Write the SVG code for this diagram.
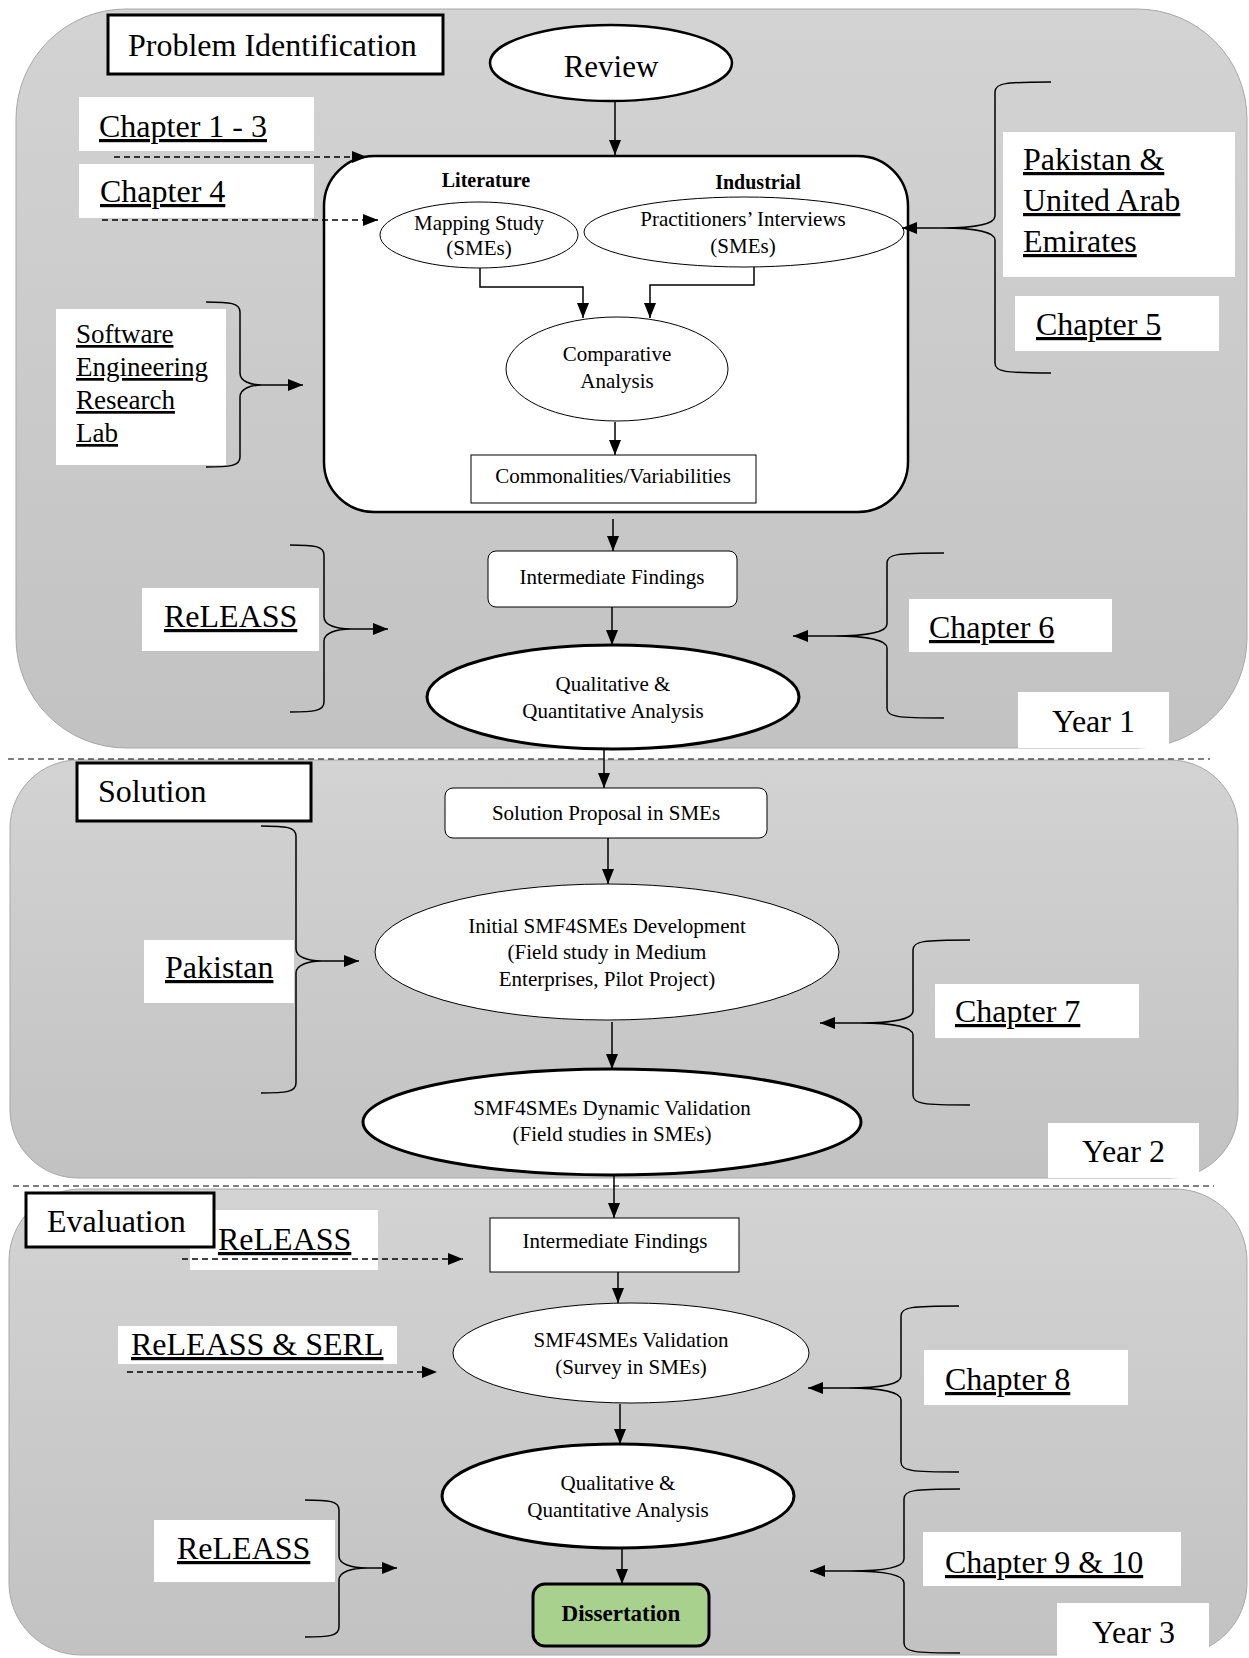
<svg xmlns="http://www.w3.org/2000/svg" width="1249" height="1658" viewBox="0 0 1249 1658">
  <defs>
    <linearGradient id="panelFill" x1="0" y1="0" x2="0" y2="1">
      <stop offset="0" stop-color="#d3d3d3"/>
      <stop offset="1" stop-color="#c2c2c2"/>
    </linearGradient>
    <marker id="arrow" markerUnits="userSpaceOnUse" markerWidth="15" markerHeight="12" refX="15" refY="6" orient="auto">
      <path d="M0,0 L15,6 L0,12 z" fill="#000"/>
    </marker>
    <style>
      .panel { fill: url(#panelFill); stroke: #a8a8a8; stroke-width: 1; }
      .sep { stroke: #000; stroke-width: 1.2; stroke-dasharray: 6 4; fill: none; }
      .label { fill: #fff; stroke: none; }
      .title { fill: #fff; stroke: #000; stroke-width: 3; }
      .big { font-family: "Liberation Serif", "Times New Roman", serif; font-size: 32px; fill: #000; }
      .ul { text-decoration: underline; }
      .node { fill: #fff; stroke: #000; stroke-width: 1; }
      .thick { stroke-width: 3; }
      .txt { font-family: "Liberation Serif", "Times New Roman", serif; font-size: 21px; fill: #000; text-anchor: middle; }
      .bold { font-weight: bold; }
      .flow { stroke: #000; stroke-width: 1.5; fill: none; marker-end: url(#arrow); }
      .dash { stroke: #000; stroke-width: 1.4; fill: none; stroke-dasharray: 6 4; marker-end: url(#arrow); }
      .brace { stroke: #000; stroke-width: 1.5; fill: none; }
    </style>
  </defs>

  <!-- phase panels -->
  <g id="panels">
    <rect class="panel" x="16" y="9" width="1231" height="739" rx="110" ry="110"/>
    <rect class="panel" x="10" y="760" width="1228" height="418" rx="68" ry="68"/>
    <rect class="panel" x="9" y="1189" width="1238" height="466" rx="72" ry="72"/>
  </g>

  <!-- year separators -->
  <g id="separators">
    <line class="sep" x1="8" y1="759" x2="1210" y2="759"/>
    <line class="sep" x1="13" y1="1186" x2="1214" y2="1186"/>
  </g>

  <!-- white label boxes -->
  <g id="label-boxes">
    <rect class="label" x="79" y="97" width="235" height="54"/>
    <rect class="label" x="79" y="164" width="235" height="54"/>
    <rect class="label" x="56" y="309" width="170" height="156"/>
    <rect class="label" x="1003" y="132" width="232" height="145"/>
    <rect class="label" x="1015" y="296" width="204" height="55"/>
    <rect class="label" x="142" y="588" width="177" height="63"/>
    <rect class="label" x="909" y="599" width="203" height="53"/>
    <rect class="label" x="1018" y="692" width="151" height="56"/>
    <rect class="label" x="144" y="940" width="150" height="63"/>
    <rect class="label" x="935" y="984" width="204" height="54"/>
    <rect class="label" x="1048" y="1123" width="151" height="55"/>
    <rect class="label" x="190" y="1210" width="188" height="60"/>
    <rect class="label" x="118" y="1326" width="279" height="38"/>
    <rect class="label" x="924" y="1350" width="204" height="55"/>
    <rect class="label" x="154" y="1520" width="181" height="62"/>
    <rect class="label" x="923" y="1532" width="258" height="54"/>
    <rect class="label" x="1057" y="1603" width="152" height="55"/>
  </g>

  <!-- phase titles -->
  <g id="title-problem">
    <rect class="title" x="108" y="15" width="335" height="59"/>
    <text class="big" x="128" y="56">Problem Identification</text>
  </g>
  <g id="title-solution">
    <rect class="title" x="77" y="763" width="234" height="58"/>
    <text class="big" x="98" y="802">Solution</text>
  </g>

  <!-- side labels -->
  <g id="lbl-ch1-3"><text class="big ul" x="99" y="137">Chapter 1 - 3</text></g>
  <g id="lbl-ch4"><text class="big ul" x="100" y="202">Chapter 4</text></g>
  <g id="lbl-serl">
    <text class="big ul" style="font-size:27px" x="76" y="343">Software</text>
    <text class="big ul" style="font-size:27px" x="76" y="376">Engineering</text>
    <text class="big ul" style="font-size:27px" x="76" y="409">Research</text>
    <text class="big ul" style="font-size:27px" x="76" y="442">Lab</text>
  </g>
  <g id="lbl-pk-uae">
    <text class="big ul" x="1023" y="170">Pakistan &amp;</text>
    <text class="big ul" x="1023" y="211">United Arab</text>
    <text class="big ul" x="1023" y="252">Emirates</text>
  </g>
  <g id="lbl-ch5"><text class="big ul" x="1036" y="335">Chapter 5</text></g>
  <g id="lbl-releass-1"><text class="big ul" x="164" y="627">ReLEASS</text></g>
  <g id="lbl-ch6"><text class="big ul" x="929" y="638">Chapter 6</text></g>
  <g id="lbl-year1"><text class="big" x="1052" y="732">Year 1</text></g>
  <g id="lbl-pakistan"><text class="big ul" x="165" y="978">Pakistan</text></g>
  <g id="lbl-ch7"><text class="big ul" x="955" y="1022">Chapter 7</text></g>
  <g id="lbl-year2"><text class="big" x="1082" y="1162">Year 2</text></g>
  <g id="lbl-releass-2"><text class="big ul" x="218" y="1250">ReLEASS</text></g>
  <g id="title-evaluation">
    <rect class="title" x="26" y="1193" width="188" height="54"/>
    <text class="big" x="47" y="1232">Evaluation</text>
  </g>
  <g id="lbl-releass-serl"><text class="big ul" x="131" y="1355">ReLEASS &amp; SERL</text></g>
  <g id="lbl-ch8"><text class="big ul" x="945" y="1390">Chapter 8</text></g>
  <g id="lbl-releass-3"><text class="big ul" x="177" y="1559">ReLEASS</text></g>
  <g id="lbl-ch9-10"><text class="big ul" x="945" y="1573">Chapter 9 &amp; 10</text></g>
  <g id="lbl-year3"><text class="big" x="1092" y="1643">Year 3</text></g>

  <!-- year 1 nodes -->
  <g id="review">
    <ellipse class="node" style="stroke-width:2.5" cx="611" cy="63" rx="121" ry="38"/>
    <text class="txt" style="font-size:31px" x="611" y="77">Review</text>
  </g>
  <g id="review-box">
    <rect class="node" style="stroke-width:2.5" x="324" y="156" width="584" height="356" rx="50" ry="50"/>
    <text class="txt bold" style="font-size:20px" x="486" y="187">Literature</text>
    <text class="txt bold" style="font-size:20px" x="758" y="189">Industrial</text>
  </g>
  <g id="mapping-study">
    <ellipse class="node" cx="479" cy="235" rx="99" ry="33"/>
    <text class="txt" x="479" y="230">Mapping Study</text>
    <text class="txt" x="479" y="255">(SMEs)</text>
  </g>
  <g id="interviews">
    <ellipse class="node" cx="744" cy="232" rx="160" ry="35"/>
    <text class="txt" x="743" y="226">Practitioners’ Interviews</text>
    <text class="txt" x="743" y="253">(SMEs)</text>
  </g>
  <g id="comparative">
    <ellipse class="node" cx="617" cy="369" rx="111" ry="52"/>
    <text class="txt" x="617" y="361">Comparative</text>
    <text class="txt" x="617" y="388">Analysis</text>
  </g>
  <g id="commonalities">
    <rect class="node" x="471" y="455" width="285" height="48"/>
    <text class="txt" x="613" y="483">Commonalities/Variabilities</text>
  </g>
  <g id="findings-1">
    <rect class="node" x="488" y="551" width="249" height="56" rx="8" ry="8"/>
    <text class="txt" x="612" y="584">Intermediate Findings</text>
  </g>
  <g id="analysis-1">
    <ellipse class="node thick" cx="613" cy="697" rx="186" ry="52"/>
    <text class="txt" x="613" y="691">Qualitative &amp;</text>
    <text class="txt" x="613" y="718">Quantitative Analysis</text>
  </g>

  <!-- year 2 nodes -->
  <g id="solution-proposal">
    <rect class="node" x="445" y="788" width="322" height="50" rx="8" ry="8"/>
    <text class="txt" x="606" y="820">Solution Proposal in SMEs</text>
  </g>
  <g id="initial-dev">
    <ellipse class="node" cx="607" cy="952" rx="232" ry="68"/>
    <text class="txt" x="607" y="933">Initial SMF4SMEs Development</text>
    <text class="txt" x="607" y="959">(Field study in Medium</text>
    <text class="txt" x="607" y="986">Enterprises, Pilot Project)</text>
  </g>
  <g id="dynamic-validation">
    <ellipse class="node thick" cx="612" cy="1122" rx="249" ry="53"/>
    <text class="txt" x="612" y="1115">SMF4SMEs Dynamic Validation</text>
    <text class="txt" x="612" y="1141">(Field studies in SMEs)</text>
  </g>

  <!-- year 3 nodes -->
  <g id="findings-2">
    <rect class="node" x="490" y="1218" width="249" height="54"/>
    <text class="txt" x="615" y="1248">Intermediate Findings</text>
  </g>
  <g id="survey-validation">
    <ellipse class="node" cx="631" cy="1353" rx="178" ry="50"/>
    <text class="txt" x="631" y="1347">SMF4SMEs Validation</text>
    <text class="txt" x="631" y="1374">(Survey in SMEs)</text>
  </g>
  <g id="analysis-2">
    <ellipse class="node thick" cx="618" cy="1496" rx="176" ry="52"/>
    <text class="txt" x="618" y="1490">Qualitative &amp;</text>
    <text class="txt" x="618" y="1517">Quantitative Analysis</text>
  </g>
  <g id="dissertation">
    <rect class="node thick" style="fill:#a9d18e" x="533" y="1584" width="176" height="62" rx="12" ry="12"/>
    <text class="txt bold" style="font-size:23px" x="621" y="1621">Dissertation</text>
  </g>

  <!-- connectors -->
  <g id="connectors">
    <path class="flow" d="M615,102 V155"/>
    <path class="flow" d="M480,268 V287 H583 V318"/>
    <path class="flow" d="M754,267 V285 H650 V318"/>
    <path class="flow" d="M615,422 V455"/>
    <path class="flow" d="M613,519 V551"/>
    <path class="flow" d="M612,607 V645"/>
    <path class="flow" d="M604,750 V788"/>
    <path class="flow" d="M608,838 V884"/>
    <path class="flow" d="M612,1022 V1069"/>
    <path class="flow" d="M614,1175 V1218"/>
    <path class="flow" d="M618,1272 V1303"/>
    <path class="flow" d="M620,1404 V1444"/>
    <path class="flow" d="M622,1548 V1584"/>

    <path class="dash" d="M114,157 H367"/>
    <path class="dash" d="M102,220 H378"/>
    <path class="dash" d="M182,1259 H463"/>
    <path class="dash" d="M127,1372 H437"/>

    <path class="brace" d="M206,302 C230,302 240,303 240,312 L240,373 C240,381 250,385 262,385 C250,385 240,389 240,397 L240,457 C240,466 230,467 206,467"/>
    <path class="flow" d="M262,385 H303"/>
    <path class="brace" d="M290,545 C314,545 324,546 324,555 L324,617 C324,625 336,629 351,629 C336,629 324,633 324,641 L324,702 C324,711 314,712 290,712"/>
    <path class="flow" d="M351,629 H388"/>
    <path class="brace" d="M261,826 C286,826 296,827 296,836 L296,949 C296,957 308,961 322,961 C308,961 296,965 296,973 L296,1083 C296,1092 286,1093 261,1093"/>
    <path class="flow" d="M322,961 H359"/>
    <path class="brace" d="M305,1500 C329,1500 339,1501 339,1510 L339,1556 C339,1564 351,1568 367,1568 C351,1568 339,1572 339,1580 L339,1627 C339,1636 329,1637 305,1637"/>
    <path class="flow" d="M367,1568 H397"/>

    <path class="brace" d="M1051,82 C1005,82 995,83 995,92 L995,216 C995,224 975,228 942,228 C975,228 995,232 995,240 L995,363 C995,372 1005,373 1051,373"/>
    <path class="flow" d="M942,228 H902"/>
    <path class="brace" d="M944,553 C897,553 887,554 887,563 L887,624 C887,632 867,636 834,636 C867,636 887,640 887,648 L887,708 C887,717 897,718 944,718"/>
    <path class="flow" d="M834,636 H793"/>
    <path class="brace" d="M970,940 C923,940 913,941 913,950 L913,1011 C913,1019 893,1023 860,1023 C893,1023 913,1027 913,1035 L913,1095 C913,1104 923,1105 970,1105"/>
    <path class="flow" d="M860,1023 H820"/>
    <path class="brace" d="M959,1306 C911,1306 901,1307 901,1316 L901,1376 C901,1384 881,1388 848,1388 C881,1388 901,1392 901,1400 L901,1462 C901,1471 911,1472 959,1472"/>
    <path class="flow" d="M848,1388 H808"/>
    <path class="brace" d="M960,1489 C914,1489 904,1490 904,1499 L904,1559 C904,1567 884,1571 850,1571 C884,1571 904,1575 904,1583 L904,1643 C904,1652 914,1653 960,1653"/>
    <path class="flow" d="M850,1571 H810"/>
  </g>
</svg>
